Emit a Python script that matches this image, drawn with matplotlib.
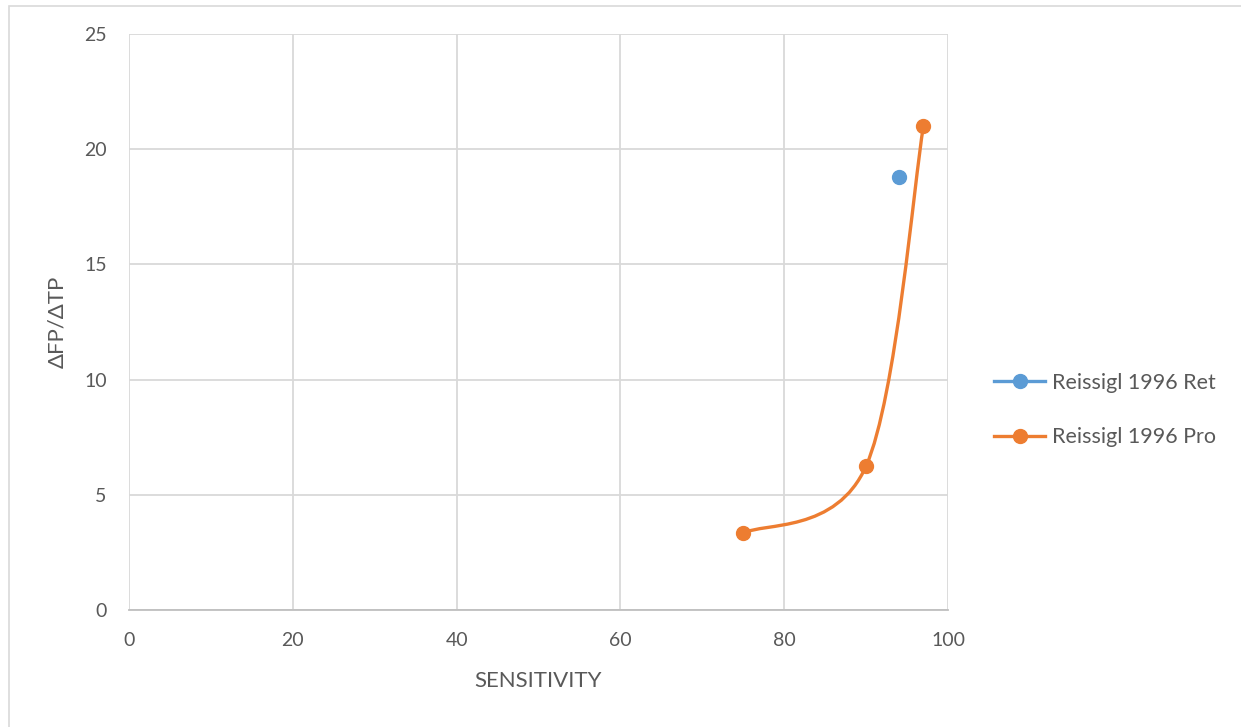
import numpy as np
import matplotlib
matplotlib.use('Agg')
import matplotlib.pyplot as plt
from matplotlib.path import Path
from matplotlib.patches import PathPatch, Rectangle
from matplotlib.lines import Line2D

plt.rcParams.update({
    'font.family': ['Lato', 'DejaVu Sans'],
    'font.size': 14,
    'text.color': '#595959',
    'axes.labelcolor': '#595959',
    'xtick.color': '#595959',
    'ytick.color': '#595959',
})

# Data
ret_x = [94.0]
ret_y = [18.8]
pro_x = [75.0, 90.0, 97.0]
pro_y = [3.33, 6.25, 21.0]

labels = ['Reissigl 1996 Ret', 'Reissigl 1996 Pro']
colors = ['#5b9bd5', '#ed7d31']
x_ticks = [0, 20, 40, 60, 80, 100]
y_ticks = [0, 5, 10, 15, 20, 25]


def smooth_path(xs, ys):
    # Excel-style smoothed line: cubic Bezier through the points
    pts = np.column_stack([xs, ys])
    ext = np.vstack([pts[0], pts, pts[-1]])
    verts = [pts[0]]
    codes = [Path.MOVETO]
    for i in range(len(pts) - 1):
        p0, p1, p2, p3 = ext[i], ext[i + 1], ext[i + 2], ext[i + 3]
        verts += [p1 + (p2 - p0) / 6, p2 - (p3 - p1) / 6, p2]
        codes += [Path.CURVE4] * 3
    return Path(verts, codes)


fig = plt.figure(figsize=(12.41, 7.27), dpi=100)
# chart-area border (only top and left edges fall inside the image)
fig.patches.append(Rectangle((9 / 1241, -0.1), 1.2, 1.1 - 6 / 727, transform=fig.transFigure,
                             fill=False, edgecolor='#d9d9d9', linewidth=1.2))
ax = fig.add_axes([129 / 1241, 1 - 610 / 727, 819 / 1241, 576 / 727])

ax.set_xlim(0, 100)
ax.set_ylim(0, 25)
ax.set_xticks(x_ticks)
ax.set_yticks(y_ticks)
ax.grid(True, color='#d9d9d9', linewidth=1.3)
ax.set_axisbelow(True)
for s in ['top', 'right', 'left']:
    ax.spines[s].set_visible(False)
ax.spines['bottom'].set_color('#bfbfbf')
ax.spines['bottom'].set_linewidth(1.3)
ax.tick_params(length=0, pad=16)

ax.add_patch(PathPatch(smooth_path(pro_x, pro_y), fill=False, edgecolor=colors[1],
                       linewidth=2.4, capstyle='round', zorder=3))
ax.plot(pro_x, pro_y, 'o', color=colors[1], markersize=10, zorder=4, clip_on=False)
ax.plot(ret_x, ret_y, 'o', color=colors[0], markersize=10, zorder=4, clip_on=False)

ax.set_xlabel('SENSITIVITY', labelpad=16, fontsize=16)
ax.set_ylabel('ΔFP/ΔTP', labelpad=12, fontsize=16)

handles = [Line2D([0], [0], color=c, marker='o', markersize=10, linewidth=2.4) for c in colors]
fig.legend(handles, labels, loc='center left', bbox_to_anchor=(975 / 1241, 1 - 410 / 727),
           frameon=False, labelspacing=1.62, handlelength=2.37, handletextpad=0.32,
           fontsize=15.5)

fig.savefig('out.png', dpi=100)
